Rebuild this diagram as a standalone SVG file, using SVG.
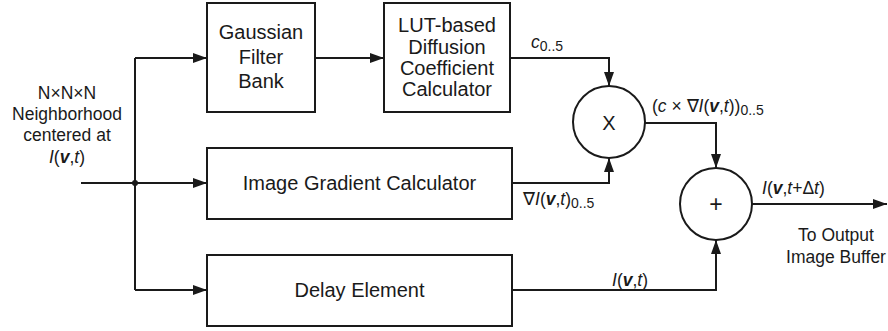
<svg xmlns="http://www.w3.org/2000/svg" width="888" height="331" viewBox="0 0 888 331">
<style>
  .box{fill:#fff;stroke:#1a1a1a;stroke-width:2}
  .wire{fill:none;stroke:#1a1a1a;stroke-width:2}
  .t{font-family:"Liberation Sans",Arial,sans-serif;font-size:20px;fill:#1a1a1a;text-anchor:middle}
  .s{font-family:"Liberation Sans",Arial,sans-serif;font-size:17.5px;fill:#1a1a1a}
  .m{text-anchor:middle}
  .i{font-style:italic}
  .bi{font-style:italic;font-weight:bold}
  .sub{font-size:14px}
</style>
<defs>
  <marker id="ah" viewBox="0 0 14 10" refX="14" refY="5" markerWidth="14" markerHeight="10" markerUnits="userSpaceOnUse" orient="auto">
    <path d="M0 0 L14 5 L0 10 z" fill="#1a1a1a"/>
  </marker>
</defs>
<rect width="888" height="331" fill="#fff"/>
<g id="connectors">
  <path class="wire" d="M81 183 H207" marker-end="url(#ah)"/>
  <path class="wire" d="M135 58 V290"/>
  <path class="wire" d="M135 58 H207" marker-end="url(#ah)"/>
  <path class="wire" d="M135 290 H207" marker-end="url(#ah)"/>
  <path class="wire" d="M315 58 H384" marker-end="url(#ah)"/>
  <path class="wire" d="M510 58 H609 V86" marker-end="url(#ah)"/>
  <path class="wire" d="M512 183 H609 V158" marker-end="url(#ah)"/>
  <path class="wire" d="M645 123 H716 V168" marker-end="url(#ah)"/>
  <path class="wire" d="M512 290 H716 V240" marker-end="url(#ah)"/>
  <path class="wire" d="M752 204 H887" marker-end="url(#ah)"/>
  <circle cx="135" cy="183" r="3" fill="#1a1a1a"/>
</g>
<g id="input-label">
  <text class="s m" x="67" y="99">N×N×N</text>
  <text class="s m" x="67" y="120">Neighborhood</text>
  <text class="s m" x="67" y="141">centered at</text>
  <text class="s m" x="67" y="163"><tspan class="i">I</tspan>(<tspan class="bi">v</tspan>,<tspan class="i">t</tspan>)</text>
</g>
<g id="gaussian">
  <rect class="box" x="207" y="3" width="108" height="109"/>
  <text class="t" x="261" y="39">Gaussian</text>
  <text class="t" x="261" y="64">Filter</text>
  <text class="t" x="261" y="88">Bank</text>
</g>
<g id="lut">
  <rect class="box" x="384" y="3" width="126" height="109"/>
  <text class="t" x="447" y="32">LUT-based</text>
  <text class="t" x="447" y="54">Diffusion</text>
  <text class="t" x="447" y="75">Coefficient</text>
  <text class="t" x="447" y="96">Calculator</text>
</g>
<g id="gradient">
  <rect class="box" x="207" y="148" width="305" height="71"/>
  <text class="t" x="359.5" y="190">Image Gradient Calculator</text>
</g>
<g id="delay">
  <rect class="box" x="207" y="255" width="305" height="71"/>
  <text class="t" x="359.5" y="297">Delay Element</text>
</g>
<g id="multiply">
  <circle class="box" cx="609" cy="122" r="36"/>
  <text class="t" x="609" y="130">X</text>
</g>
<g id="add">
  <circle class="box" cx="716" cy="204" r="36"/>
  <text class="t" x="716" y="212" style="font-size:23px">+</text>
</g>
<g id="labels">
  <text class="s" x="531" y="48"><tspan class="i">c</tspan><tspan class="sub" dy="3">0..5</tspan></text>
  <text class="s" x="523" y="205">∇<tspan class="i">I</tspan>(<tspan class="bi">v</tspan>,<tspan class="i">t</tspan>)<tspan class="sub" dy="3">0..5</tspan></text>
  <text class="s" x="652" y="112">(<tspan class="i">c</tspan> × ∇<tspan class="i">I</tspan>(<tspan class="bi">v</tspan>,<tspan class="i">t</tspan>))<tspan class="sub" dy="3">0..5</tspan></text>
  <text class="s" x="762" y="194"><tspan class="i">I</tspan>(<tspan class="bi">v</tspan>,<tspan class="i">t</tspan>+Δ<tspan class="i">t</tspan>)</text>
  <text class="s m" x="836" y="241">To Output</text>
  <text class="s m" x="836" y="263">Image Buffer</text>
  <text class="s" x="612" y="286"><tspan class="i">I</tspan>(<tspan class="bi">v</tspan>,<tspan class="i">t</tspan>)</text>
</g>
</svg>
